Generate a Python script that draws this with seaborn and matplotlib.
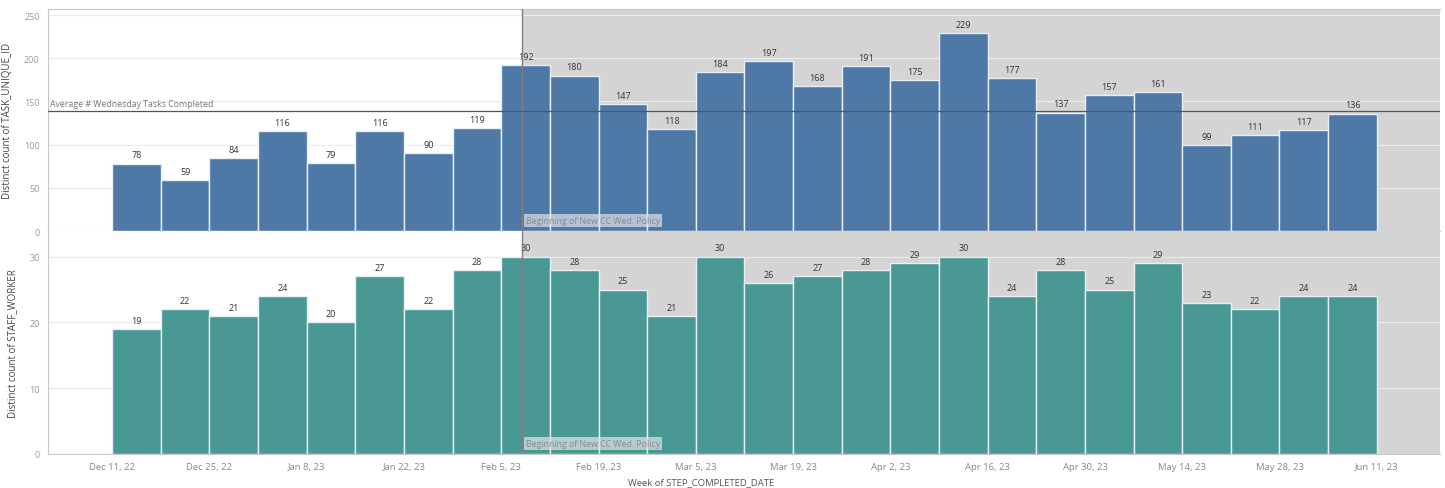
import matplotlib
matplotlib.use("Agg")
import matplotlib.pyplot as plt
import seaborn as sns
import pandas as pd

weeks = ["Dec 11, 22", "Dec 18, 22", "Dec 25, 22", "Jan 1, 23", "Jan 8, 23", "Jan 15, 23",
         "Jan 22, 23", "Jan 29, 23", "Feb 5, 23", "Feb 12, 23", "Feb 19, 23", "Feb 26, 23",
         "Mar 5, 23", "Mar 12, 23", "Mar 19, 23", "Mar 26, 23", "Apr 2, 23", "Apr 9, 23",
         "Apr 16, 23", "Apr 23, 23", "Apr 30, 23", "May 7, 23", "May 14, 23", "May 21, 23",
         "May 28, 23", "Jun 4, 23"]
tasks = [78, 59, 84, 116, 79, 116, 90, 119, 192, 180, 147, 118, 184, 197, 168, 191,
         175, 229, 177, 137, 157, 161, 99, 111, 117, 136]
workers = [19, 22, 21, 24, 20, 27, 22, 28, 30, 28, 25, 21, 30, 26, 27, 28, 29, 30,
           24, 28, 25, 29, 23, 22, 24, 24]
tick_labels = ["Dec 11, 22", "Dec 25, 22", "Jan 8, 23", "Jan 22, 23", "Feb 5, 23",
               "Feb 19, 23", "Mar 5, 23", "Mar 19, 23", "Apr 2, 23", "Apr 16, 23",
               "Apr 30, 23", "May 14, 23", "May 28, 23", "Jun 11, 23"]
avg_tasks = 139
policy_week = "Feb 5, 23"
policy_offset_days = 3  # Wednesday after week start

df = pd.DataFrame({"week": weeks, "tasks": tasks, "workers": workers})

sns.set_theme(style="white")
plt.rcParams["font.family"] = ["Open Sans", "DejaVu Sans"]

W, H = 1445, 489
fig = plt.figure(figsize=(W / 100, H / 100), dpi=100)
left, right = 48 / W, 1440 / W
ax1 = fig.add_axes([left, 1 - 232 / H, right - left, (232 - 10) / H])
ax2 = fig.add_axes([left, 1 - 455 / H, right - left, (455 - 232) / H])

xlo, xhi = -1.82, 26.8
policy_x = weeks.index(policy_week) - 0.5 + policy_offset_days / 7
shade = "#d4d4d4"
label_col = "#333333"
tick_col = "#999999"

panels = [
    (ax1, "tasks", "#4e79a7", "Distinct count of TASK_UNIQUE_ID", (0, 257), [0, 50, 100, 150, 200, 250], 7),
    (ax2, "workers", "#499894", "Distinct count of STAFF_WORKER", (0, 33.9), [0, 10, 20, 30], 0.9),
]

for ax, col, color, ylab, ylim, yt, boxy in panels:
    ax.set_facecolor("white")
    ax.axvspan(policy_x, xhi, color=shade, zorder=0, lw=0)
    sns.barplot(data=df, x="week", y=col, ax=ax, color=color, width=1.0,
                edgecolor="#e8eef3", linewidth=1.0, saturation=1, zorder=2)
    ax.bar_label(ax.containers[0], fontsize=6.5, color=label_col, padding=3)
    ax.set_xlim(xlo, xhi)
    ax.set_ylim(*ylim)
    ax.set_yticks(yt)
    ax.set_yticklabels([str(v) for v in yt], fontsize=6.5, color=tick_col)
    for v in yt[1:]:
        ax.axhline(v, color="#ececec", lw=0.8, zorder=1)
    ax.set_ylabel(ylab, fontsize=7, color="#444444", labelpad=8)
    ax.tick_params(axis="both", length=0, pad=6)
    ax.axvline(policy_x, color="#808080", lw=1.0, zorder=4)
    ax.text(policy_x + 0.08, boxy, "Beginning of New CC Wed. Policy", fontsize=6.3,
            color="#8a8a8a", va="bottom", ha="left", zorder=5,
            bbox=dict(boxstyle="square,pad=0.25", facecolor="#dfe4ea", alpha=0.7, edgecolor="none"))
    ax.spines["right"].set_visible(False)
    for s in ["left", "top", "bottom"]:
        ax.spines[s].set_color("#c8c8c8")
        ax.spines[s].set_linewidth(0.8)

ax1.axhline(avg_tasks, color="#555555", lw=0.9, zorder=4)
ax1.text(xlo + 0.05, avg_tasks + 3, "Average # Wednesday Tasks Completed", fontsize=6.3,
         color="#777777", va="bottom", ha="left", zorder=5)

ax1.set_xlabel("")
ax1.set_xticks([])
tick_pos = [i * 2 - 0.5 for i in range(len(tick_labels))]
ax2.set_xticks(tick_pos)
ax2.set_xticklabels(tick_labels, fontsize=6.8, color="#888888")
ax2.set_xlabel("")
ax2.spines["top"].set_visible(False)

fig.text(0.485, 2 / H, "Week of STEP_COMPLETED_DATE", fontsize=6.8, color="#555555",
         ha="center", va="bottom")

fig.savefig("out.png", dpi=100)
